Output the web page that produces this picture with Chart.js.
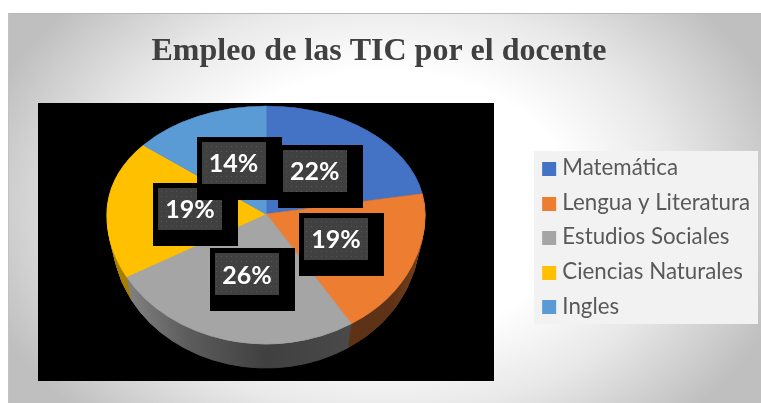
<!DOCTYPE html>
<html>
<head>
<meta charset="utf-8">
<script src="https://cdn.jsdelivr.net/npm/chart.js@4"></script>
<style>
  html, body { margin: 0; padding: 0; background: #fff; overflow: hidden; }
  #card {
    position: absolute; left: 8px; top: 13px; width: 753px; height: 390px;
    background: radial-gradient(ellipse 420px 300px at 375px 192px, #ffffff 0%, #ffffff 45%, #e8e8e8 70%, #cdcdcd 90%, #bfbfbf 100%);
    border-top: 1px solid #b8b8b8; border-left: 1px solid #c2c2c2; box-sizing: border-box;
  }
  #chart { position: absolute; left: 0; top: 0; }
</style>
</head>
<body>
<div id="card"></div>
<canvas id="chart" width="761" height="403"></canvas>
<script>
const titleText = "Empleo de las TIC por el docente";
const categories = ["Matemática", "Lengua y Literatura", "Estudios Sociales", "Ciencias Naturales", "Ingles"];
const values = [22, 19, 26, 19, 14];
const colors = ["#4472C4", "#ED7D31", "#A5A5A5", "#FFC000", "#5B9BD5"];
// colour stops of the pie's side wall, left to right
const sideStops = [
  [[0, "#2a4476"], [1, "#2a4476"]],
  [[0, "#5a3014"], [0.9, "#5e3216"], [1, "#74401c"]],
  [[0, "#8c8c8c"], [0.25, "#5c5c5c"], [0.5, "#404040"], [0.8, "#4a4a4a"], [1, "#4a4a4a"]],
  [[0, "#a67f00"], [1, "#a67f00"]],
  [[0, "#375d80"], [1, "#375d80"]],
];

// layout of the picture
const plotBox = { x: 38, y: 103, w: 456, h: 278 };
const legendBox = { x: 534, y: 151, w: 224, h: 173 };
const pie = { cx: 266, cy: 214, rx: 159, bottomRx: 153, up: 108, down: 130, depth: 24 };

function dotPattern(ctx) {
  const c = document.createElement("canvas");
  c.width = 5; c.height = 5;
  const p = c.getContext("2d");
  p.fillStyle = "#404040";
  p.fillRect(0, 0, 5, 5);
  p.fillStyle = "#555555";
  p.fillRect(1, 1, 1, 1);
  return ctx.createPattern(c, "repeat");
}

// the tilted pie: upper and lower half get their own vertical squash,
// the side wall narrows a little towards its bottom edge
function drawHalf(ctx, arcs, upper, shift, styleFor) {
  const rx = pie.rx + (pie.bottomRx - pie.rx) * shift / pie.depth;
  ctx.save();
  ctx.beginPath();
  if (upper) ctx.rect(0, 0, 761, pie.cy);
  else ctx.rect(0, pie.cy + shift, 761, 403);
  ctx.clip();
  arcs.forEach((arc, i) => {
    const r = arc.outerRadius;
    ctx.save();
    ctx.translate(pie.cx, pie.cy + shift);
    ctx.scale(rx / r, (upper ? pie.up : pie.down) / r);
    ctx.translate(-arc.x, -arc.y);
    const saved = arc.options;
    const fill = styleFor(ctx, i, arc);
    arc.options = Object.assign({}, saved, { backgroundColor: fill, borderColor: fill });
    arc.draw(ctx);
    arc.options = saved;
    ctx.restore();
  });
  ctx.restore();
}

function sideStyle(ctx, i, arc) {
  const g = ctx.createLinearGradient(arc.x - arc.outerRadius, 0, arc.x + arc.outerRadius, 0);
  sideStops[i].forEach((s) => g.addColorStop(s[0], s[1]));
  return g;
}

const tiltedPie = {
  id: "tiltedPie",
  beforeDraw(chart) {
    const ctx = chart.ctx;
    ctx.save();
    ctx.fillStyle = "#000";
    ctx.fillRect(plotBox.x, plotBox.y, plotBox.w, plotBox.h);
    ctx.fillStyle = "#f2f2f2";
    ctx.fillRect(legendBox.x, legendBox.y, legendBox.w, legendBox.h);
    ctx.restore();
  },
  beforeDatasetsDraw(chart) {
    const ctx = chart.ctx;
    const arcs = chart.getDatasetMeta(0).data;
    for (let d = pie.depth; d > 0; d--) drawHalf(ctx, arcs, false, d, sideStyle);
    drawHalf(ctx, arcs, true, 0, (c, i) => colors[i]);
    drawHalf(ctx, arcs, false, 0, (c, i) => colors[i]);
    return false;
  },
  afterDraw(chart) {
    const ctx = chart.ctx;
    const arcs = chart.getDatasetMeta(0).data;
    const total = values.reduce((a, b) => a + b, 0);
    const pattern = dotPattern(ctx);
    ctx.save();
    // legend gap is tied to the box width, so the swatch is widened here
    chart.legend.legendHitBoxes.forEach((hb, i) => {
      ctx.fillStyle = colors[i];
      ctx.fillRect(hb.left - 2, Math.round(hb.top + (hb.height - 14) / 2) + 1, 14, 14);
    });
    arcs.forEach((arc, i) => {
      const mid = (arc.startAngle + arc.endAngle) / 2;
      const sx = Math.cos(mid), sy = Math.sin(mid);
      const x = pie.cx + sx * pie.rx * 0.48;
      const y = pie.cy + (sy < 0 ? sy * pie.up * 0.52 : sy * pie.down * 0.48);
      // black label shape, then dotted plate, then the text
      ctx.fillStyle = "#000";
      ctx.fillRect(Math.round(x - 37), Math.round(y - 26), 85, 63);
      ctx.fillStyle = pattern;
      ctx.fillRect(Math.round(x - 32), Math.round(y - 21), 64, 42);
      ctx.fillStyle = "#fff";
      ctx.font = "bold 25px Lato";
      ctx.textAlign = "center";
      ctx.textBaseline = "middle";
      ctx.fillText(Math.round(values[i] * 100 / total) + "%", x, y + 1);
    });
    ctx.restore();
  },
};

new Chart(document.getElementById("chart"), {
  type: "pie",
  data: {
    labels: categories,
    datasets: [{ data: values, backgroundColor: colors, borderColor: colors, borderWidth: 1 }],
  },
  options: {
    responsive: false,
    animation: false,
    layout: { padding: { left: -2, right: 1, top: 33, bottom: 8 } },
    plugins: {
      title: {
        display: true,
        text: titleText,
        color: "#404040",
        font: { family: "Liberation Serif", size: 32, weight: "bold" },
        padding: { top: 0, bottom: 8 },
      },
      legend: {
        position: "right",
        fullSize: false,
        labels: {
          boxWidth: 7,
          boxHeight: 8,
          padding: 12.3,
          color: "#595959",
          font: { family: "Lato", size: 22.3 },
        },
      },
      tooltip: { enabled: false },
    },
  },
  plugins: [tiltedPie],
});
</script>
</body>
</html>
